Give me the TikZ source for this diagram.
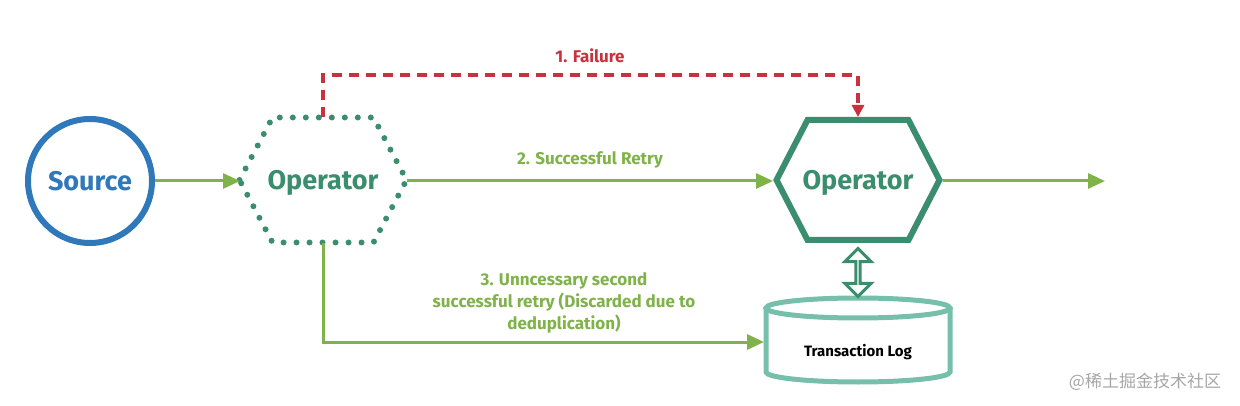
\documentclass[tikz,border=0pt]{standalone}
\usepackage{fontspec}
\setmainfont{Fira Sans}
\newfontfamily\cjk{Noto Sans CJK SC}
\usetikzlibrary{arrows.meta, calc, positioning, shapes.arrows}
\definecolor{srcblue}{HTML}{2F78BA}
\definecolor{opteal}{HTML}{3A8E6E}
\definecolor{flowgreen}{HTML}{80B24A}
\definecolor{failred}{HTML}{C8313E}
\definecolor{logteal}{HTML}{76BFAA}
\tikzset{
x=1pt, y=-1pt, % one unit per pixel, y grows downwards
big/.style={font=\bfseries\fontsize{27}{30}\selectfont}, % node titles
edgetext/.style={font=\bfseries\fontsize{17}{22}\selectfont, align=center}, % connector labels
flow/.style={draw=flowgreen, line width=3pt, -{Triangle[length=17pt,width=15pt]}},
failure/.style={draw=failred, line width=3.5pt, dash pattern=on 10pt off 7pt, -{Triangle[length=12pt,width=12pt]}},
dotted hex/.style={draw=opteal, line width=6pt, line cap=round, dash pattern=on 0pt off 13pt},
solid hex/.style={draw=opteal, line width=6pt, line join=miter},
}
% hexagon round a named centre: #1 style, #2 centre, #3 half width, #4 tip, #5 half height
\newcommand\drawhex[5]{%
  \draw[#1] ($(#2)+(-#3,0)$) -- ++(#4,-#5) -- ($(#2)+(#3-#4,-#5)$) -- ($(#2)+(#3,0)$)
    -- ($(#2)+(#3-#4,#5)$) -- ($(#2)+(-#3+#4,#5)$) -- cycle;}
\begin{document}
\begin{tikzpicture}
\useasboundingbox (0,0) rectangle (1240,406);
% nodes
\node[circle, draw=srcblue, line width=6pt, minimum size=124pt, big, text=srcblue] (source) at (90,181) {Source};
\coordinate (op1c) at (323,180);
\coordinate (op2c) at (858,180);
\node[big, text=opteal, yshift=-3pt] (op1) at (op1c) {Operator};
\node[big, text=opteal, yshift=-3pt] (op2) at (op2c) {Operator};
\drawhex{dotted hex}{op1c}{83.5}{33}{62.5}
\drawhex{solid hex}{op2c}{81.5}{31}{60}
\coordinate (op1-w) at (240,181);
\coordinate (op1-e) at (407,181);
\coordinate (op1-n) at (323,117);
\coordinate (op1-s) at (323,243);
\coordinate (op2-w) at (773,181);
\coordinate (op2-e) at (942,181);
\coordinate (op2-n) at (858,117);
\coordinate (out) at (1105,181);
% transaction log cylinder
\coordinate (log) at (858,342);
\draw[logteal, line width=5pt] (766,308) -- (766,372) arc[start angle=180, end angle=360, x radius=92, y radius=-10] -- (950,308);
\draw[logteal, line width=5pt] (858,308) ellipse[x radius=92, y radius=10];
\coordinate (log-w) at (764,342);
\node[font=\bfseries\fontsize{15}{18}\selectfont] (logtext) at (858,352) {Transaction Log};
% two-way link between operator and log
\node[double arrow, draw=opteal, line width=3pt, rotate=90, minimum height=48pt, minimum width=26pt,
  double arrow head extend=8pt, inner sep=0pt] (sync) at (858,272.5) {};
% connectors
\draw[flow] (source) -- (op1-w);
\draw[flow] (op1-e) -- (op2-w);
\draw[flow, shorten <=1pt] (op2-e) -- (out);
\draw[failure] (op1-n) -- ++(0,-42) -| (op2-n);
\draw[flow] (op1-s) |- (log-w);
% labels
\node[edgetext, text=failred] (failtext) at (590,56) {1. Failure};
\node[edgetext, text=flowgreen] (retrytext) at (590,160) {2. Successful Retry};
\node[edgetext, text=flowgreen] (duptext) at (564,303) {3. Unncessary second\\successful retry (Discarded due to\\deduplication)};
\node[text=black!35, font=\cjk\fontsize{17}{20}\selectfont] (mark) at (1145,382) {@稀土掘金技术社区};
\end{tikzpicture}
\end{document}
